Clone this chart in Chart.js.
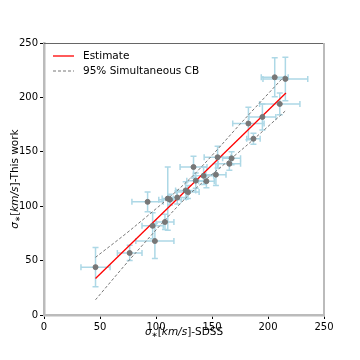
<!DOCTYPE html>
<html>
<head>
<meta charset="utf-8">
<script src="https://cdn.jsdelivr.net/npm/chart.js@4.4.0/dist/chart.umd.min.js"></script>
<style>
  html, body { margin: 0; padding: 0; background: #fff; }
</style>
</head>
<body>
<canvas id="chart" width="360" height="360"></canvas>
<script>
// ---- data ----
const sdssX = [46, 76.5, 92.5, 97, 99, 108, 110.5, 112.5, 119, 126.5, 128.5, 133.5, 135.5, 142.5, 145, 153.5, 155, 165.5, 167.5, 182.5, 187, 195, 210.5, 206, 215.5];
const workY = [44, 57, 104, 82, 68, 85.5, 107, 106, 108, 114.5, 113, 136, 123.5, 128, 123, 129, 145, 139, 144, 176, 162, 182, 194, 218.5, 217];
const xErr  = [13, 11, 14, 9.5, 17, 8, 5, 10, 8, 9, 10, 12, 8, 9, 7, 9, 12, 10, 8, 14, 6, 12, 18, 12, 20];
const yErr  = [18, 7, 9, 12, 16, 7, 29, 5, 6, 8, 6, 10, 7, 8, 6, 10, 10, 6, 6, 15, 5, 12, 10, 18, 20];

const fitX = [46, 216];
const fitY = [33.5, 204];

const cbX = [46, 80, 130, 180, 216];
const cbUpper = [53, 80.5, 125, 181, 221];
const cbLower = [14, 55, 111, 155, 188];

const ticks = [0, 50, 100, 150, 200, 250];

const FONT = "'DejaVu Sans', sans-serif";

function pts(xs, ys) {
  return xs.map((x, i) => ({ x: x, y: ys[i] }));
}

/************ ERROR BARS ************/
const errorBars = {
  id: "errorBars",
  beforeDatasetsDraw(chart) {
    const { ctx, scales: { x, y } } = chart;
    ctx.save();
    ctx.strokeStyle = "#add8e6";
    ctx.lineWidth = 1.5;
    const cap = 3;
    sdssX.forEach((v, i) => {
      const px = x.getPixelForValue(v);
      const py = y.getPixelForValue(workY[i]);
      const x0 = x.getPixelForValue(v - xErr[i]);
      const x1 = x.getPixelForValue(v + xErr[i]);
      const y0 = y.getPixelForValue(workY[i] - yErr[i]);
      const y1 = y.getPixelForValue(workY[i] + yErr[i]);
      ctx.beginPath();
      ctx.moveTo(x0, py); ctx.lineTo(x1, py);
      ctx.moveTo(px, y0); ctx.lineTo(px, y1);
      // caps
      ctx.moveTo(x0, py - cap); ctx.lineTo(x0, py + cap);
      ctx.moveTo(x1, py - cap); ctx.lineTo(x1, py + cap);
      ctx.moveTo(px - cap, y0); ctx.lineTo(px + cap, y0);
      ctx.moveTo(px - cap, y1); ctx.lineTo(px + cap, y1);
      ctx.stroke();
    });
    ctx.restore();
  },
};

/************ FRAME, LEGEND, AXIS TITLES ************/
function drawMixed(ctx, parts, size) {
  let w = 0;
  parts.forEach((p) => {
    ctx.font = (p.it ? "italic " : "") + (p.sub ? size * 0.7 : size) + "px " + FONT;
    p.w = ctx.measureText(p.t).width;
    w += p.w;
  });
  let cx = -w / 2;
  parts.forEach((p) => {
    ctx.font = (p.it ? "italic " : "") + (p.sub ? size * 0.7 : size) + "px " + FONT;
    ctx.fillText(p.t, cx, p.sub ? size * 0.2 : 0);
    cx += p.w;
  });
}

const extras = {
  id: "extras",
  afterDraw(chart) {
    const { ctx, chartArea: a } = chart;
    ctx.save();
    // top + right spines
    ctx.strokeStyle = "#666";
    ctx.lineWidth = 1;
    ctx.beginPath();
    ctx.moveTo(a.left, a.top + 0.5);
    ctx.lineTo(a.right, a.top + 0.5);
    ctx.stroke();
    ctx.strokeStyle = "#bbb";
    ctx.lineWidth = 2;
    ctx.beginPath();
    ctx.moveTo(a.right, a.top);
    ctx.lineTo(a.right, a.bottom);
    ctx.stroke();

    // legend
    ctx.lineWidth = 1.3;
    ctx.strokeStyle = "red";
    ctx.beginPath();
    ctx.moveTo(53, 56); ctx.lineTo(74, 56);
    ctx.stroke();
    ctx.strokeStyle = "#777";
    ctx.lineWidth = 1;
    ctx.setLineDash([3, 2]);
    ctx.beginPath();
    ctx.moveTo(53, 71); ctx.lineTo(74, 71);
    ctx.stroke();
    ctx.setLineDash([]);
    ctx.fillStyle = "#000";
    ctx.font = "10.5px " + FONT;
    ctx.textBaseline = "middle";
    ctx.textAlign = "left";
    ctx.fillText(chart.data.datasets[1].label, 83, 56);
    ctx.fillText(chart.data.datasets[2].label, 83, 71);

    // axis titles
    ctx.textBaseline = "alphabetic";
    ctx.save();
    ctx.translate((a.left + a.right) / 2, 335);
    drawMixed(ctx, [
      { t: "σ", it: true }, { t: "∗", sub: true }, { t: "[" },
      { t: "km/s", it: true }, { t: "]" }, { t: "-SDSS" },
    ], 10.5);
    ctx.restore();
    ctx.save();
    ctx.translate(18, (a.top + a.bottom) / 2);
    ctx.rotate(-Math.PI / 2);
    drawMixed(ctx, [
      { t: "σ", it: true }, { t: "∗", sub: true }, { t: "[" },
      { t: "km/s", it: true }, { t: "]" }, { t: "-This work" },
    ], 10.5);
    ctx.restore();
    ctx.restore();
  },
};

/************ CHART ************/
const axis = (extra) => Object.assign({
  type: "linear",
  min: 0,
  max: 250,
  grid: { display: true, drawOnChartArea: false, drawTicks: true, tickLength: 4, tickColor: "#000" },
  border: { display: true, color: "#bbb", width: 2.5 },
  ticks: { stepSize: 50, color: "#000", font: { family: FONT, size: 10 }, padding: 2 },
  afterBuildTicks: (s) => { s.ticks = ticks.map((v) => ({ value: v })); },
}, extra);

new Chart(document.getElementById("chart"), {
  type: "scatter",
  data: {
    datasets: [
      {
        label: "data",
        data: pts(sdssX, workY),
        backgroundColor: "#777",
        borderColor: "#777",
        pointRadius: 2.5,
        order: 0,
      },
      {
        label: "Estimate",
        type: "line",
        data: pts(fitX, fitY),
        borderColor: "red",
        borderWidth: 1.3,
        pointRadius: 0,
        order: 1,
      },
      {
        label: "95% Simultaneous CB",
        type: "line",
        data: pts(cbX, cbUpper),
        borderColor: "#777",
        borderWidth: 1,
        borderDash: [3, 2],
        pointRadius: 0,
        tension: 0.3,
        order: 1,
      },
      {
        label: "95% Simultaneous CB",
        type: "line",
        data: pts(cbX, cbLower),
        borderColor: "#777",
        borderWidth: 1,
        borderDash: [3, 2],
        pointRadius: 0,
        tension: 0.3,
        order: 1,
      },
    ],
  },
  options: {
    responsive: false,
    animation: false,
    layout: { padding: { top: 43, right: 36, left: 0, bottom: 0 } },
    plugins: { legend: { display: false }, tooltip: { enabled: false } },
    scales: {
      x: axis({ position: "bottom", afterFit: (s) => { s.height = 45; } }),
      y: axis({ position: "left", afterFit: (s) => { s.width = 44; } }),
    },
  },
  plugins: [errorBars, extras],
});
</script>
</body>
</html>
